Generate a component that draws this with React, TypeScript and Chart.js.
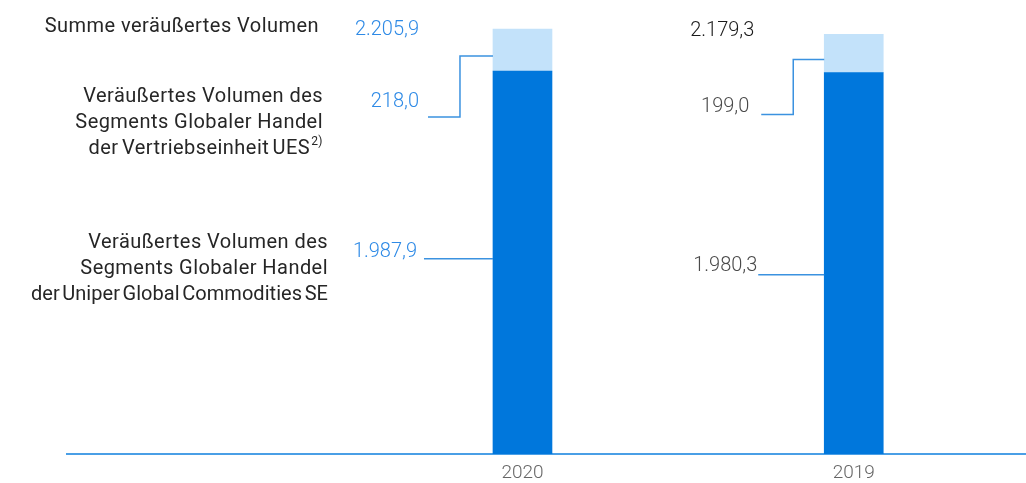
import React, { useEffect, useRef } from 'react';
import { Chart, registerables } from 'chart.js';

Chart.register(...registerables);

// ---- data ----
const years = ['2020', '2019'];
const gcVolumes = [1987.9, 1980.3]; // Uniper Global Commodities SE
const uesVolumes = [218.0, 199.0]; // Vertriebseinheit UES
const totalVolumes = [2205.9, 2179.3];

const legendTotal = 'Summe veräußertes Volumen';
const legendUes = ['Veräußertes Volumen des', 'Segments Globaler Handel', 'der Vertriebseinheit UES'];
const legendUesSup = '2)';
const legendGc = ['Veräußertes Volumen des', 'Segments Globaler Handel', 'der Uniper Global Commodities SE'];

// ---- style / layout config ----
const FONT = 'Roboto, "DejaVu Sans", sans-serif';
const DARK = '#0077DC';
const LIGHT = '#C3E2FA';
const AXIS = '#4A9FE6';
const LEADER = '#3B92E0';
const valueColors = ['#2E8AE6', '#4a4a4a'];
const totalColors = ['#2E8AE6', '#1a1a1a'];

// per-year leader-line layout (offsets relative to the bar)
const leaderLayout = [
  { upFrac: 0.64, upDrop: 61, upElbow: 33, upEnd: 65, upLabelDx: 74, upLabelDy: -10,
    lowFrac: 0.49, lowEnd: 69, lowLabelDx: 76, lowLabelDy: -2, totalDx: 74, totalDy: 6 },
  { upFrac: 0.66, upDrop: 55, upElbow: 31, upEnd: 63, upLabelDx: 75, upLabelDy: -3,
    lowFrac: 0.53, lowEnd: 66, lowLabelDx: 67, lowLabelDy: -4, totalDx: 70, totalDy: 2 },
];

function fmt(n: number): string {
  const [int, dec] = n.toFixed(1).split('.');
  const withSep = int.replace(/\B(?=(\d{3})+(?!\d))/g, '.');
  return `${withSep},${dec}`;
}

const annotationPlugin = {
  id: 'leaderAnnotations',
  afterDatasetsDraw(chart: any) {
    const ctx: any = chart.ctx;
    const low = chart.getDatasetMeta(0).data;
    const up = chart.getDatasetMeta(1).data;
    ctx.save();
    ctx.textBaseline = 'alphabetic';
    ctx.font = `300 20px ${FONT}`;
    const baselines: { total: number; ues: number; gc: number }[] = [];
    years.forEach((_, i) => {
      const lo = low[i];
      const hi = up[i];
      const cfg = leaderLayout[i];
      const L = lo.x - lo.width / 2;
      const T = hi.y;
      const S = lo.y;
      const B = lo.base;

      ctx.strokeStyle = LEADER;
      ctx.lineWidth = 1.5;
      const yConn = T + cfg.upFrac * (S - T);
      const yEnd = yConn + cfg.upDrop;
      ctx.beginPath();
      ctx.moveTo(L, yConn);
      ctx.lineTo(L - cfg.upElbow, yConn);
      ctx.lineTo(L - cfg.upElbow, yEnd);
      ctx.lineTo(L - cfg.upEnd, yEnd);
      ctx.stroke();
      const yLow = S + cfg.lowFrac * (B - S);
      ctx.beginPath();
      ctx.moveTo(L, yLow);
      ctx.lineTo(L - cfg.lowEnd, yLow);
      ctx.stroke();

      ctx.textAlign = 'right';
      ctx.fillStyle = totalColors[i];
      ctx.fillText(fmt(totalVolumes[i]), L - cfg.totalDx, T + cfg.totalDy);
      ctx.fillStyle = valueColors[i];
      ctx.fillText(fmt(uesVolumes[i]), L - cfg.upLabelDx, yEnd + cfg.upLabelDy);
      ctx.fillText(fmt(gcVolumes[i]), L - cfg.lowLabelDx, yLow + cfg.lowLabelDy);
      baselines.push({ total: T + cfg.totalDy, ues: yEnd + cfg.upLabelDy, gc: yLow + cfg.lowLabelDy });
    });

    // left-hand legend texts, aligned with the 2020 labels
    const L0 = low[0].x - low[0].width / 2;
    const b = baselines[0];
    const F = `400 20px ${FONT}`;
    const FS = `400 12px ${FONT}`;
    ctx.font = F;
    ctx.fillStyle = '#262626';
    ctx.textAlign = 'right';
    ctx.letterSpacing = '0.45px';
    ctx.fillText(legendTotal, L0 - 174, b.total - 3);
    const lh = 26;
    ctx.font = FS;
    const supW = ctx.measureText(legendUesSup).width;
    ctx.font = F;
    const r1 = L0 - 170;
    legendUes.forEach((t, k) => {
      const y = b.ues - 5 + k * lh;
      if (k === legendUes.length - 1) {
        ctx.wordSpacing = '-2px';
        ctx.fillText(t, r1 - supW - 1, y);
        ctx.wordSpacing = '0px';
        ctx.font = FS;
        ctx.fillText(legendUesSup, r1, y - 9);
        ctx.font = F;
      } else {
        ctx.fillText(t, r1, y);
      }
    });
    const r2 = L0 - 165;
    legendGc.forEach((t, k) => {
      if (k === legendGc.length - 1) {
        ctx.letterSpacing = '0.05px';
        ctx.wordSpacing = '-2.5px';
      }
      ctx.fillText(t, r2, b.gc - 9 + k * lh);
    });
    ctx.restore();
  },
};

export default function App() {
  const canvasRef = useRef<HTMLCanvasElement | null>(null);

  useEffect(() => {
    if (!canvasRef.current) return;
    const chart = new Chart(canvasRef.current, {
      type: 'bar',
      data: {
        datasets: [
          {
            label: 'Uniper Global Commodities SE',
            data: years.map((_, i) => ({ x: i, y: gcVolumes[i] })),
            backgroundColor: DARK,
            borderWidth: 0,
            barThickness: 59,
          },
          {
            label: 'Vertriebseinheit UES',
            data: years.map((_, i) => ({ x: i, y: uesVolumes[i] })),
            backgroundColor: LIGHT,
            borderWidth: 0,
            barThickness: 59,
          },
        ],
      },
      options: {
        responsive: false,
        animation: false,
        layout: { padding: { left: 67, right: 0, top: 11, bottom: 0 } },
        plugins: {
          legend: { display: false },
          tooltip: { enabled: false },
        },
        scales: {
          x: {
            type: 'linear',
            stacked: true,
            offset: false,
            min: -1.375,
            max: 1.52,
            afterBuildTicks: (scale: any) => {
              scale.ticks = years.map((_, i) => ({ value: i }));
            },
            afterFit: (scale: any) => {
              scale.height = 29;
            },
            grid: { display: true, offset: false, drawOnChartArea: false, drawTicks: false, color: 'rgba(0,0,0,0)' },
            border: { display: true, color: AXIS, width: 2 },
            ticks: {
              autoSkip: false,
              padding: 8,
              color: '#666',
              font: { family: FONT, size: 19, weight: '300' },
              callback: (v: any) => years[v as number] ?? '',
            },
          },
          y: {
            display: false,
            stacked: true,
            min: 0,
            max: 2300,
          },
        },
      },
      plugins: [annotationPlugin],
    } as any);
    return () => chart.destroy();
  }, []);

  return (
    <div style={{ position: 'fixed', left: 0, top: 0, width: 1026, height: 483, background: '#fff' }}>
      <canvas ref={canvasRef} width={1026} height={483} style={{ display: 'block' }} />
    </div>
  );
}
